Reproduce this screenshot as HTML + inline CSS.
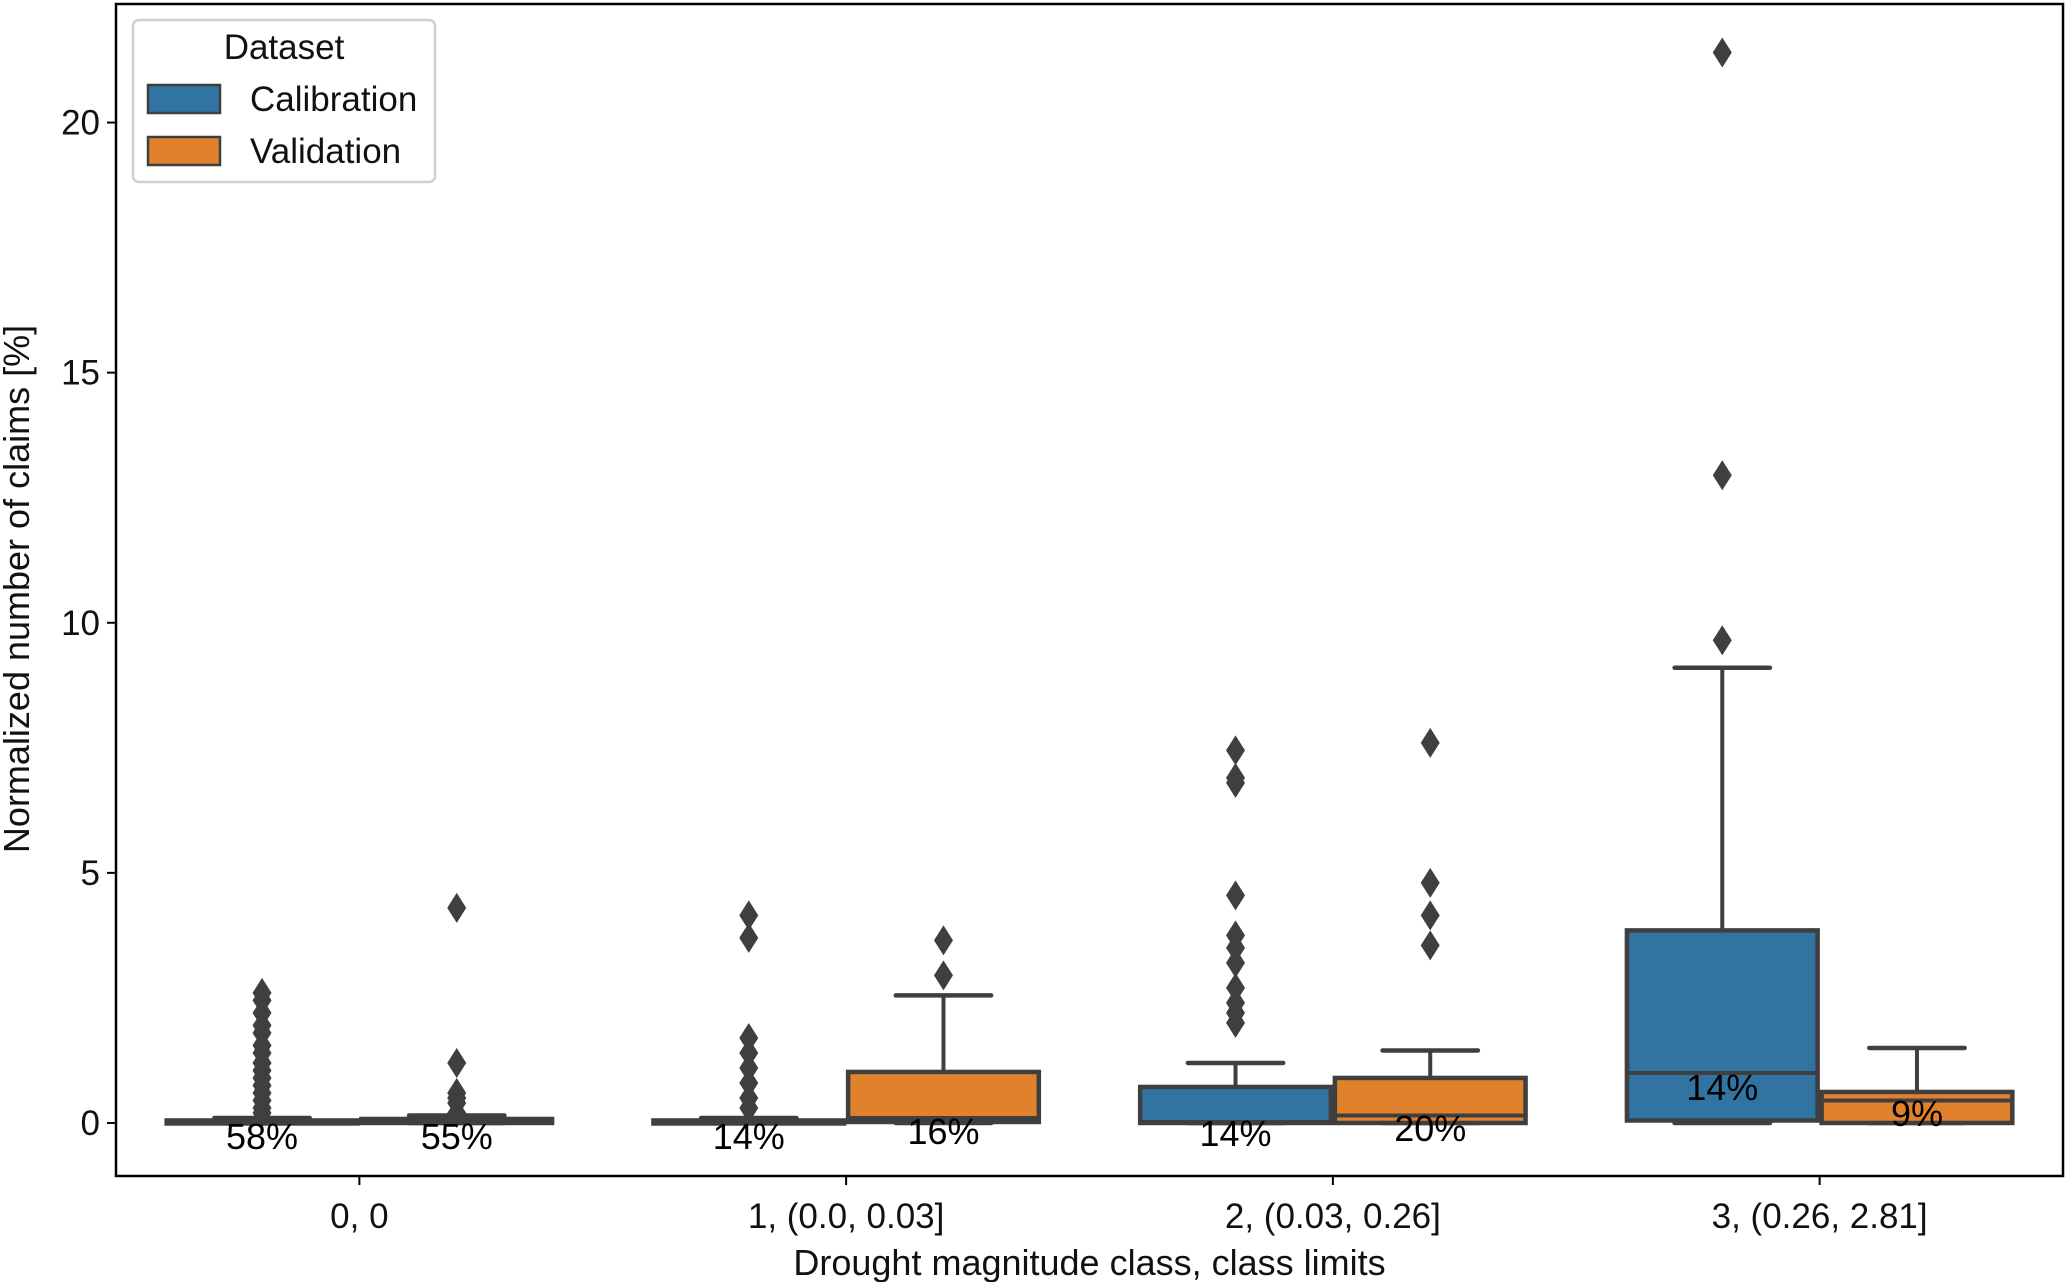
<!DOCTYPE html>
<html><head><meta charset="utf-8"><style>
html,body{margin:0;padding:0;background:#fff;}
svg{display:block;font-family:"Liberation Sans",Arial,sans-serif;}
</style></head><body>
<svg id="chart" width="2067" height="1282" viewBox="0 0 2067 1282" xmlns="http://www.w3.org/2000/svg"></svg>
<script>
const categories = ["0, 0", "1, (0.0, 0.03]", "2, (0.03, 0.26]", "3, (0.26, 2.81]"];
const seriesNames = ["Calibration", "Validation"];
const yTicks = [0, 5, 10, 15, 20];
// [whiskerLow, q1, median, q3, whiskerHigh]
const calStats = [[0,0,0,0.05,0.1],[0,0,0,0.05,0.1],[0,0,0.02,0.72,1.2],[0,0.05,1.0,3.85,9.1]];
const valStats = [[0,0,0,0.08,0.15],[0,0.02,0.1,1.02,2.55],[0,0,0.15,0.9,1.45],[0,0,0.45,0.62,1.5]];
const calOutliers = [[0.2,0.3,0.45,0.6,0.75,0.9,1.05,1.2,1.4,1.55,1.8,1.95,2.2,2.45,2.6],[0.3,0.5,0.8,1.1,1.4,1.7,3.7,4.15],[2.0,2.2,2.4,2.7,3.2,3.5,3.75,4.55,6.8,6.9,7.45],[9.65,12.95,21.4]];
const valOutliers = [[0.2,0.4,0.5,0.6,1.2,4.3],[2.95,3.65],[3.55,4.15,4.8,7.6],[]];
const calPctLabels = ["58%","14%","14%","14%"];
const valPctLabels = ["55%","16%","20%","9%"];
const calPctY = [-0.28,-0.28,-0.22,0.7];
const valPctY = [-0.28,-0.18,-0.12,0.18];

const svg = document.getElementById('chart');
const NS = 'http://www.w3.org/2000/svg';
const L=116, R=2063, T=4, B=1176;
const yMin=-1.06, yMax=22.37;
const y = v => B - (v - yMin)/(yMax - yMin)*(B - T);
const xc = i => L + (i + 0.5)*(R - L)/categories.length;
const catW = (R - L)/categories.length;
const colors = ["#3274a1","#e1812c"];
const lc = "#3f3f3f";
function mk(tag, attrs, parent){const e=document.createElementNS(NS,tag);for(const k in attrs)e.setAttribute(k,attrs[k]);(parent||svg).appendChild(e);return e;}

const frame = mk('rect',{x:L,y:T,width:R-L,height:B-T,fill:'none',stroke:'#000','stroke-width':2.5});



yTicks.forEach(t=>{
  const g = mk('g',{});
  
  
  mk('line',{x1:L-9,x2:L,y1:y(t),y2:y(t),stroke:'#000','stroke-width':2},g);
  const tx = mk('text',{x:L-16,y:y(t)+12,'text-anchor':'end','font-size':35,fill:'#111'},g);
  tx.textContent = t;
});
categories.forEach((c,i)=>{
  const g = mk('g',{});
  
  
  mk('line',{x1:xc(i),x2:xc(i),y1:B,y2:B+9,stroke:'#000','stroke-width':2},g);
  const tx = mk('text',{x:xc(i),y:B+52,'text-anchor':'middle','font-size':35,fill:'#111'},g);
  tx.textContent = c;
});

function drawBox(stats, outs, pct, pctY, i, s){
  const g = mk('g',{});
  
  
  const x0 = xc(i) - 0.4*catW + s*0.4*catW + 2;
  const w = 0.4*catW - 4;
  const mid = x0 + w/2;
  const [wl,q1,md,q3,wh] = stats;
  mk('line',{x1:mid,x2:mid,y1:y(q3),y2:y(wh),stroke:lc,'stroke-width':4},g);
  mk('line',{x1:mid,x2:mid,y1:y(q1),y2:y(wl),stroke:lc,'stroke-width':4},g);
  mk('line',{x1:mid-w/4,x2:mid+w/4,y1:y(wh),y2:y(wh),stroke:lc,'stroke-width':4.5,'stroke-linecap':'round'},g);
  mk('line',{x1:mid-w/4,x2:mid+w/4,y1:y(wl),y2:y(wl),stroke:lc,'stroke-width':4.5,'stroke-linecap':'round'},g);
  const h = Math.max(y(q1)-y(q3), 3);
  mk('rect',{x:x0,y:y(q3),width:w,height:h,fill:colors[s],stroke:lc,'stroke-width':4.5},g);
  mk('line',{x1:x0,x2:x0+w,y1:y(md),y2:y(md),stroke:lc,'stroke-width':4},g);
  outs.forEach(v=>{
    const d = mk('path',{d:`M${mid},${y(v)-15} L${mid+9.5},${y(v)} L${mid},${y(v)+15} L${mid-9.5},${y(v)} Z`,fill:lc},g);
    
    
  });
  const t = mk('text',{x:mid,y:y(pctY)+12,'text-anchor':'middle','font-size':36,fill:'#000'},g);
  
  
  t.textContent = pct;
}
categories.forEach((c,i)=>{
  drawBox(calStats[i], calOutliers[i], calPctLabels[i], calPctY[i], i, 0);
  drawBox(valStats[i], valOutliers[i], valPctLabels[i], valPctY[i], i, 1);
});

const xt = mk('text',{x:(L+R)/2,y:1275,'text-anchor':'middle','font-size':36,fill:'#111'});


xt.textContent = 'Drought magnitude class, class limits';
const yt = mk('text',{x:0,y:0,'text-anchor':'middle','font-size':36,fill:'#111',transform:'translate(29,589) rotate(-90)'});


yt.textContent = 'Normalized number of claims [%]';

const lg = mk('g',{});


mk('rect',{x:133,y:20,width:302,height:162,rx:6,fill:'#fff',stroke:'#d0d0d0','stroke-width':2.5},lg);
const lt = mk('text',{x:284,y:59,'text-anchor':'middle','font-size':35,fill:'#111'},lg);
lt.textContent = 'Dataset';
seriesNames.forEach((n,k)=>{
  const e = mk('g',{},lg);
  
  
  mk('rect',{x:148,y:85+k*52,width:72,height:28,fill:colors[k],stroke:lc,'stroke-width':2.5},e);
  const t = mk('text',{x:250,y:111+k*52,'font-size':35,fill:'#111'},e);
  t.textContent = n;
});
</script>
</body></html>
